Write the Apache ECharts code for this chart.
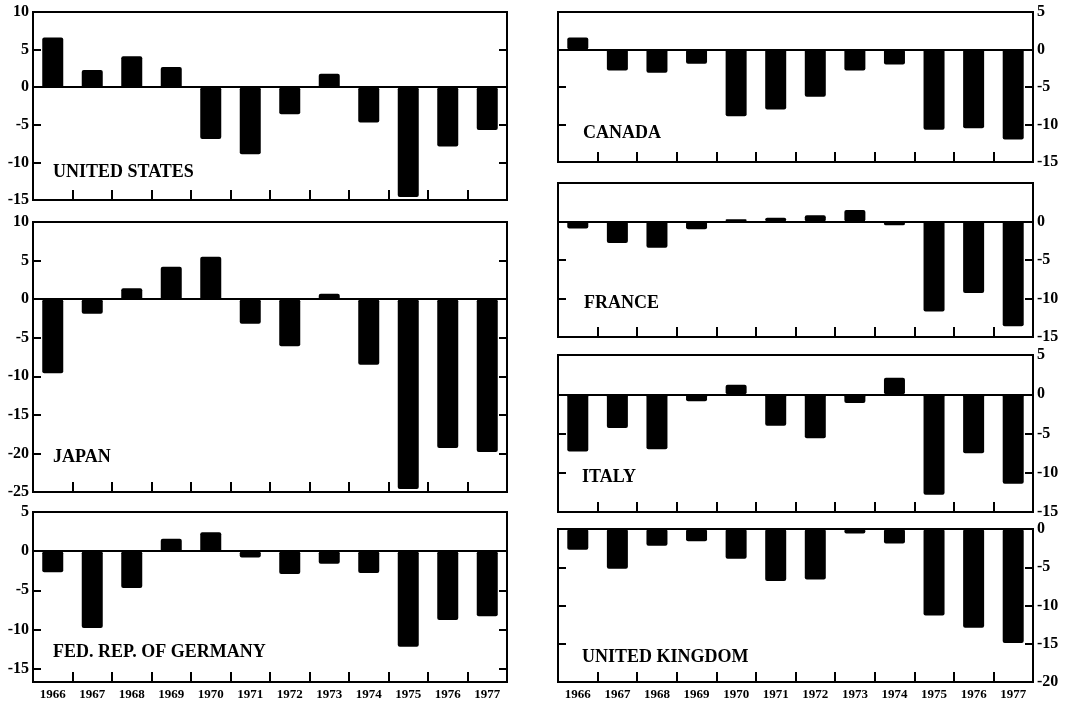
<!DOCTYPE html>
<html><head><meta charset="utf-8">
<script src="https://cdn.jsdelivr.net/npm/echarts@6/dist/echarts.min.js"></script>
<style>html,body{margin:0;padding:0;background:#fff}#c{width:1092px;height:707px}</style>
</head><body><div id="c"></div>
<script>
const years = ['1966','1967','1968','1969','1970','1971','1972','1973','1974','1975','1976','1977'];
const unitedStates = [6.6, 2.3, 4.1, 2.7, -6.9, -8.9, -3.6, 1.8, -4.7, -14.6, -7.9, -5.7];
const japan = [-9.6, -1.9, 1.4, 4.2, 5.5, -3.2, -6.1, 0.7, -8.5, -24.6, -19.3, -19.8];
const germany = [-2.7, -9.8, -4.7, 1.6, 2.4, -0.8, -2.9, -1.6, -2.8, -12.2, -8.8, -8.3];
const canada = [1.6, -2.8, -3.1, -1.9, -8.9, -8.0, -6.3, -2.8, -2.0, -10.7, -10.5, -12.0];
const france = [-0.9, -2.8, -3.4, -1.0, 0.3, 0.5, 0.8, 1.5, -0.5, -11.7, -9.3, -13.6];
const italy = [-7.3, -4.3, -7.0, -0.9, 1.2, -4.0, -5.6, -1.1, 2.1, -12.8, -7.5, -11.4];
const unitedKingdom = [-2.7, -5.2, -2.2, -1.6, -3.9, -6.8, -6.6, -0.6, -1.9, -11.3, -12.9, -14.9];

const usTicks = [10, 5, 0, -5, -10, -15];
const japanTicks = [10, 5, 0, -5, -10, -15, -20, -25];
const germanyTicks = [5, 0, -5, -10, -15];
const canadaTicks = [5, 0, -5, -10, -15];
const franceTicks = [0, -5, -10, -15];
const italyTicks = [5, 0, -5, -10, -15];
const ukTicks = [0, -5, -10, -15, -20];

const panels = [
  {name: 'UNITED STATES', data: unitedStates, ticks: usTicks, min: -15, max: 10, side: 'left', box: [33, 12, 474, 188], years: false, label: [53, 163]},
  {name: 'JAPAN', data: japan, ticks: japanTicks, min: -25, max: 10, side: 'left', box: [33, 222, 474, 270], years: false, label: [53, 448]},
  {name: 'FED. REP. OF GERMANY', data: germany, ticks: germanyTicks, min: -16.7, max: 5, side: 'left', box: [33, 512, 474, 170], years: true, label: [53, 643]},
  {name: 'CANADA', data: canada, ticks: canadaTicks, min: -15, max: 5, side: 'right', box: [558, 12, 475, 150], years: false, label: [583, 124]},
  {name: 'FRANCE', data: france, ticks: franceTicks, min: -15, max: 5, side: 'right', box: [558, 183, 475, 154], years: false, label: [584, 294]},
  {name: 'ITALY', data: italy, ticks: italyTicks, min: -15, max: 5, side: 'right', box: [558, 355, 475, 157], years: false, label: [582, 468]},
  {name: 'UNITED KINGDOM', data: unitedKingdom, ticks: ukTicks, min: -20, max: 0, side: 'right', box: [558, 529, 475, 153], years: true, label: [582, 648]}
];

const serif = '"Liberation Serif", "DejaVu Serif", serif';
const grids = [], xAxes = [], yAxes = [], series = [], graphics = [];
panels.forEach((p, i) => {
  grids.push({left: p.box[0], top: p.box[1], width: p.box[2], height: p.box[3], show: true,
    borderColor: '#000', borderWidth: 2, backgroundColor: 'transparent', containLabel: false});
  xAxes.push({type: 'category', gridIndex: i, data: years, position: 'bottom',
    axisLine: {show: false, onZero: false},
    axisTick: {show: true, inside: true, length: 10, lineStyle: {color: '#000', width: 2}},
    axisLabel: {show: p.years, interval: 0, color: '#000', fontFamily: serif, fontWeight: 'bold', fontSize: 13, margin: 6},
    splitLine: {show: false}});
  ['left', 'right'].forEach(pos => {
    yAxes.push({type: 'value', gridIndex: i, position: pos, min: p.min, max: p.max,
      axisLine: {show: false}, splitLine: {show: false},
      axisTick: {show: true, inside: true, length: 8, customValues: p.ticks, lineStyle: {color: '#000', width: 2}},
      axisLabel: {show: pos === p.side, customValues: p.ticks, color: '#000', fontFamily: serif,
        fontWeight: 'bold', fontSize: 16, margin: 4}});
  });
  series.push({type: 'bar', xAxisIndex: i, yAxisIndex: 2 * i, data: p.data, barWidth: 21,
    itemStyle: {color: '#000', borderRadius: 2}, silent: true,
    markLine: {silent: true, symbol: 'none', label: {show: false}, animation: false,
      lineStyle: {color: '#000', width: 2, type: 'solid'}, data: [{yAxis: 0}]}});
  graphics.push({type: 'text', left: p.label[0], top: p.label[1],
    style: {text: p.name, font: 'bold 18px ' + serif, fill: '#000'}});
});

const chart = echarts.init(document.getElementById('c'), null, {renderer: 'canvas'});
chart.setOption({
  backgroundColor: '#fff',
  animation: false,
  grid: grids, xAxis: xAxes, yAxis: yAxes, series: series, graphic: graphics
});
</script>
</body></html>
